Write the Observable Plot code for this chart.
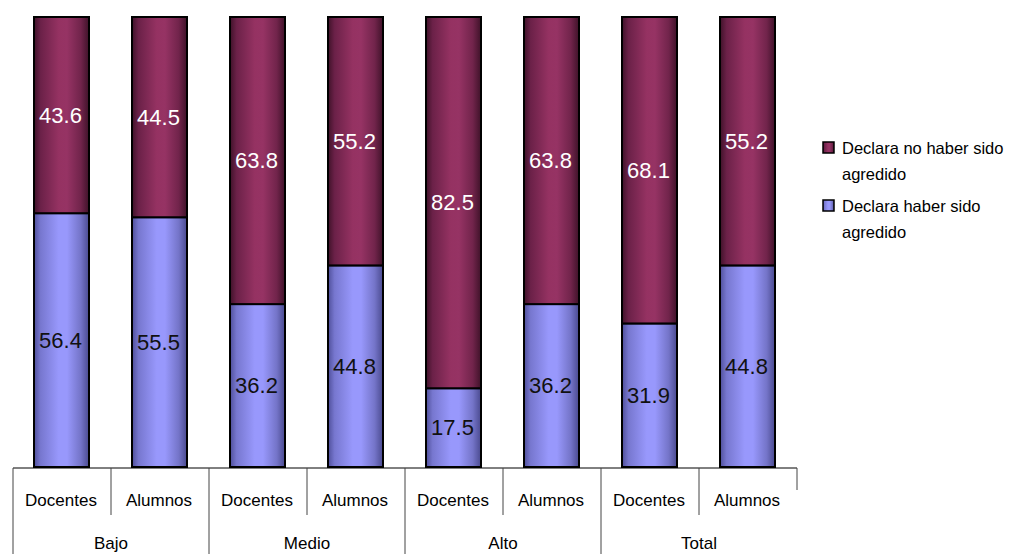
<!DOCTYPE html>
<html>
<head>
<meta charset="utf-8">
<script src="https://cdn.jsdelivr.net/npm/d3@7"></script>
<script src="https://cdn.jsdelivr.net/npm/@observablehq/plot@0.6"></script>
<style>
  html, body { margin: 0; padding: 0; background: #fff; }
  #chart svg { display: block; }
</style>
</head>
<body>
<div id="chart"></div>
<script>
const groups = ["Bajo", "Medio", "Alto", "Total"];
const roles = ["Docentes", "Alumnos"];
const agredido = [56.4, 55.5, 36.2, 44.8, 17.5, 36.2, 31.9, 44.8];
const noAgredido = [43.6, 44.5, 63.8, 55.2, 82.5, 63.8, 68.1, 55.2];
const seriesNames = ["Declara haber sido agredido", "Declara no haber sido agredido"];
const legendLines = [["Declara no haber sido", "agredido"], ["Declara haber sido", "agredido"]];

const keys = groups.flatMap(g => roles.map(r => g + "|" + r));
const rows = [];
keys.forEach((k, i) => {
  const [g, r] = k.split("|");
  rows.push({key: k, group: g, role: r, series: seriesNames[0], value: agredido[i]});
  rows.push({key: k, group: g, role: r, series: seriesNames[1], value: noAgredido[i]});
});

const font = "'Liberation Sans', Arial, sans-serif";

const chart = Plot.plot({
  width: 1011,
  height: 554,
  marginLeft: 10,
  marginRight: 211,
  marginTop: 17,
  marginBottom: 87,
  x: {domain: keys, padding: 0, axis: null},
  y: {domain: [0, 100], axis: null},
  color: {domain: seriesNames, range: ["url(#gBlue)", "url(#gMaroon)"]},
  style: {background: "white", fontFamily: font},
  marks: [
    Plot.barY(rows, Plot.stackY({
      x: "key", y: "value", fill: "series",
      stroke: "black", strokeWidth: 2, insetLeft: 21, insetRight: 22
    })),
    Plot.text(rows, Plot.stackY({
      x: "key", y: "value",
      text: d => d.series === seriesNames[1] ? d.value.toFixed(1) : null,
      fill: "white", fontSize: 22, dx: -2
    })),
    Plot.text(rows, Plot.stackY({
      x: "key", y: "value",
      text: d => d.series === seriesNames[0] ? d.value.toFixed(1) : null,
      fill: "#111", fontSize: 22, dx: -2
    }))
  ]
});

const svg = d3.select(chart);
const defs = svg.insert("defs", ":first-child");
function grad(id, stops) {
  const g = defs.append("linearGradient").attr("id", id)
    .attr("x1", "0%").attr("x2", "100%").attr("y1", "0%").attr("y2", "0%");
  stops.forEach(([o, c]) => g.append("stop").attr("offset", o).attr("stop-color", c));
}
grad("gMaroon", [[0, "#3f1229"], [0.12, "#6b2148"], [0.45, "#953262"], [0.6, "#963364"], [0.85, "#71244b"], [1, "#3f1229"]]);
grad("gBlue", [[0, "#4f4f9a"], [0.12, "#7777cf"], [0.45, "#9898fc"], [0.6, "#9898fc"], [0.85, "#7474c8"], [1, "#4a4a8f"]]);

// category table below the bars, positioned from the Plot x scale
const xs = chart.scale("x");
const bw = xs.bandwidth;
const y0 = 468, yMid = 515, yEnd = 554;
const tbl = svg.append("g").attr("stroke", "#444").attr("stroke-width", 1).attr("fill", "none");
const x0 = xs.apply(keys[0]);
const xN = xs.apply(keys[keys.length - 1]) + bw;
tbl.append("line").attr("x1", x0).attr("x2", xN).attr("y1", y0).attr("y2", y0).attr("stroke", "#000");
keys.forEach((k, i) => {
  const xl = xs.apply(k);
  if (i % 2 === 0) {
    tbl.append("line").attr("x1", xl).attr("x2", xl).attr("y1", y0).attr("y2", yEnd);
  } else {
    tbl.append("line").attr("x1", xl).attr("x2", xl).attr("y1", y0).attr("y2", yMid);
  }
});
tbl.append("line").attr("x1", xN).attr("x2", xN).attr("y1", y0).attr("y2", 490);

const lbl = svg.append("g").attr("font-family", font).attr("fill", "#000").attr("text-anchor", "middle");
keys.forEach(k => {
  const [g, r] = k.split("|");
  lbl.append("text").attr("x", xs.apply(k) + bw / 2 - 1).attr("y", 500).attr("dy", "0.35em")
    .attr("font-size", 17).text(r);
});
groups.forEach((g, gi) => {
  const xa = xs.apply(keys[gi * 2]);
  const xb = xs.apply(keys[gi * 2 + 1]) + bw;
  lbl.append("text").attr("x", (xa + xb) / 2).attr("y", 543).attr("dy", "0.35em")
    .attr("font-size", 17).text(g);
});

// legend
const leg = svg.append("g").attr("font-family", font).attr("font-size", 16.5).attr("text-anchor", "start");
const legFills = ["url(#gMaroon)", "url(#gBlue)"];
const legTop = [148, 206];
legendLines.forEach((lines, i) => {
  leg.append("rect").attr("x", 823).attr("y", legTop[i] - 6).attr("width", 11).attr("height", 11)
    .attr("fill", legFills[i]).attr("stroke", "#000").attr("stroke-width", 1.5);
  lines.forEach((t, j) => {
    leg.append("text").attr("x", 842).attr("y", legTop[i] + j * 26).attr("dy", "0.35em").text(t);
  });
});

document.getElementById("chart").appendChild(chart);
</script>
</body>
</html>
